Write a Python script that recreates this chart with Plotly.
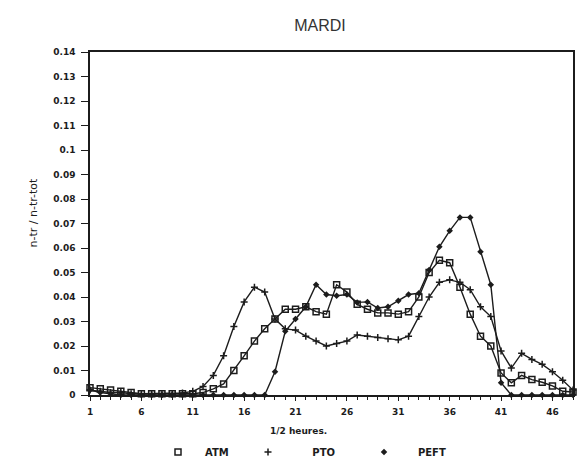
import plotly.graph_objects as go

# Half-hour slots of the day
slots = list(range(1, 49))
x_tick_vals = list(range(1, 47, 5))
y_tick_vals = [round(i * 0.01, 2) for i in range(15)]

atm = [0.003, 0.0025, 0.002, 0.0015, 0.001, 0.0005, 0.0005, 0.0005, 0.0005, 0.0005,
       0.0005, 0.001, 0.0025, 0.0045, 0.010, 0.016, 0.022, 0.027, 0.031, 0.035,
       0.035, 0.036, 0.034, 0.033, 0.045, 0.042, 0.037, 0.035, 0.0335, 0.0335,
       0.033, 0.034, 0.040, 0.050, 0.055, 0.054, 0.044, 0.033, 0.024, 0.020,
       0.009, 0.005, 0.008, 0.0063, 0.0052, 0.0037, 0.0015, 0.0012]

pto = [0.002, 0.0015, 0.001, 0.001, 0.0005, 0.0005, 0.0005, 0.0005, 0.0005, 0.0008,
       0.0015, 0.0035, 0.008, 0.016, 0.028, 0.038, 0.044, 0.042, 0.031, 0.027,
       0.0265, 0.024, 0.022, 0.020, 0.021, 0.022, 0.0245, 0.024, 0.0235, 0.023,
       0.0225, 0.024, 0.032, 0.040, 0.046, 0.047, 0.046, 0.043, 0.036, 0.032,
       0.018, 0.011, 0.017, 0.0145, 0.0125, 0.0095, 0.006, 0.002]

peft = [0.002, 0.001, 0.0005, 0.0, 0.0, 0.0, 0.0, 0.0, 0.0, 0.0,
        0.0, 0.0, 0.0, 0.0, 0.0, 0.0, 0.0, 0.0, 0.0095, 0.026,
        0.031, 0.036, 0.045, 0.041, 0.0405, 0.041, 0.0378, 0.038, 0.0355, 0.036,
        0.0385, 0.041, 0.0415, 0.051, 0.0605, 0.067, 0.0725, 0.0725, 0.0585, 0.045,
        0.005, 0.0, 0.0, 0.0, 0.0, 0.0, 0.0, 0.0]

INK = "#1c1c1c"
NBSP = "\u00a0"

# (name, values, marker, legend id, key x position in px, spaces before key text)
series = [
    ("ATM", atm, dict(symbol="square-open", size=6, color=INK, line=dict(width=1.5, color=INK)),
     "legend", 158, 2),
    ("PTO", pto, dict(symbol="cross-thin-open", size=5, color=INK, line=dict(width=1.5, color=INK)),
     "legend2", 248, 7),
    ("PEFT", peft, dict(symbol="diamond", size=5, color=INK, line=dict(width=0)),
     "legend3", 364, 4),
]

fig = go.Figure()
for name, vals, marker, leg, _, pad in series:
    fig.add_trace(go.Scatter(
        x=slots, y=vals, mode="lines+markers", name=name,
        line=dict(color=INK, width=1.4), marker=marker,
        showlegend=False, cliponaxis=False,
    ))
    # marker-only entry for the key under the axis
    fig.add_trace(go.Scatter(
        x=[None], y=[None], mode="markers", name=NBSP * pad + name,
        marker=marker, legend=leg, showlegend=True,
    ))

tick_font = dict(family="DejaVu Sans, sans-serif", size=9, color=INK, weight="bold")
key_font = dict(family="DejaVu Sans, sans-serif", size=10, color=INK, weight="bold")

W, H = 584, 464
L, R, T, B = 90, 11, 52, 69
pw = W - L - R
ph = H - T - B

def paper_x(px):
    return (px - L) / pw

def paper_y(py):
    return (H - B - py) / ph

legend_common = dict(y=paper_y(452), xanchor="left", yanchor="middle",
                     font=key_font, bgcolor="rgba(0,0,0,0)", borderwidth=0)
legends = {leg: dict(x=paper_x(px), **legend_common) for _, _, _, leg, px, _ in series}

fig.update_layout(
    width=W, height=H,
    margin=dict(l=L, r=R, t=T, b=B, autoexpand=False),
    paper_bgcolor="white", plot_bgcolor="white",
    title=dict(text="MARDI", x=320 / W, xanchor="center", y=1 - 25 / H, yanchor="middle",
               font=dict(family="Liberation Sans, Arial, sans-serif", size=16, color="#333")),
    xaxis=dict(range=[1, 48], tickvals=x_tick_vals, ticks="outside", ticklen=4,
               tickcolor=INK, showline=True, linecolor=INK, linewidth=1.5, mirror=True,
               showgrid=False, zeroline=False, tickfont=tick_font, ticklabelstandoff=3,
               minor=dict(dtick=1, tick0=1, ticks="outside", ticklen=3, tickcolor=INK)),
    yaxis=dict(range=[0, 0.14], tickvals=y_tick_vals, ticks="outside", ticklen=7,
               tickcolor=INK, showline=True, linecolor=INK, linewidth=1.5, mirror=True,
               showgrid=False, zeroline=False, tickfont=tick_font, ticklabelstandoff=4),
    annotations=[
        dict(text="n-tr / n-tr-tot", xref="paper", yref="paper",
             x=paper_x(24), y=paper_y(213), textangle=-90, showarrow=False,
             font=dict(family="DejaVu Sans, sans-serif", size=11, color=INK)),
        dict(text="1/2 heures.", xref="paper", yref="paper",
             x=paper_x(298), y=paper_y(438), showarrow=False,
             font=dict(family="DejaVu Sans, sans-serif", size=9, color=INK, weight="bold")),
    ],
    **legends,
)

fig.write_html("out.html")
